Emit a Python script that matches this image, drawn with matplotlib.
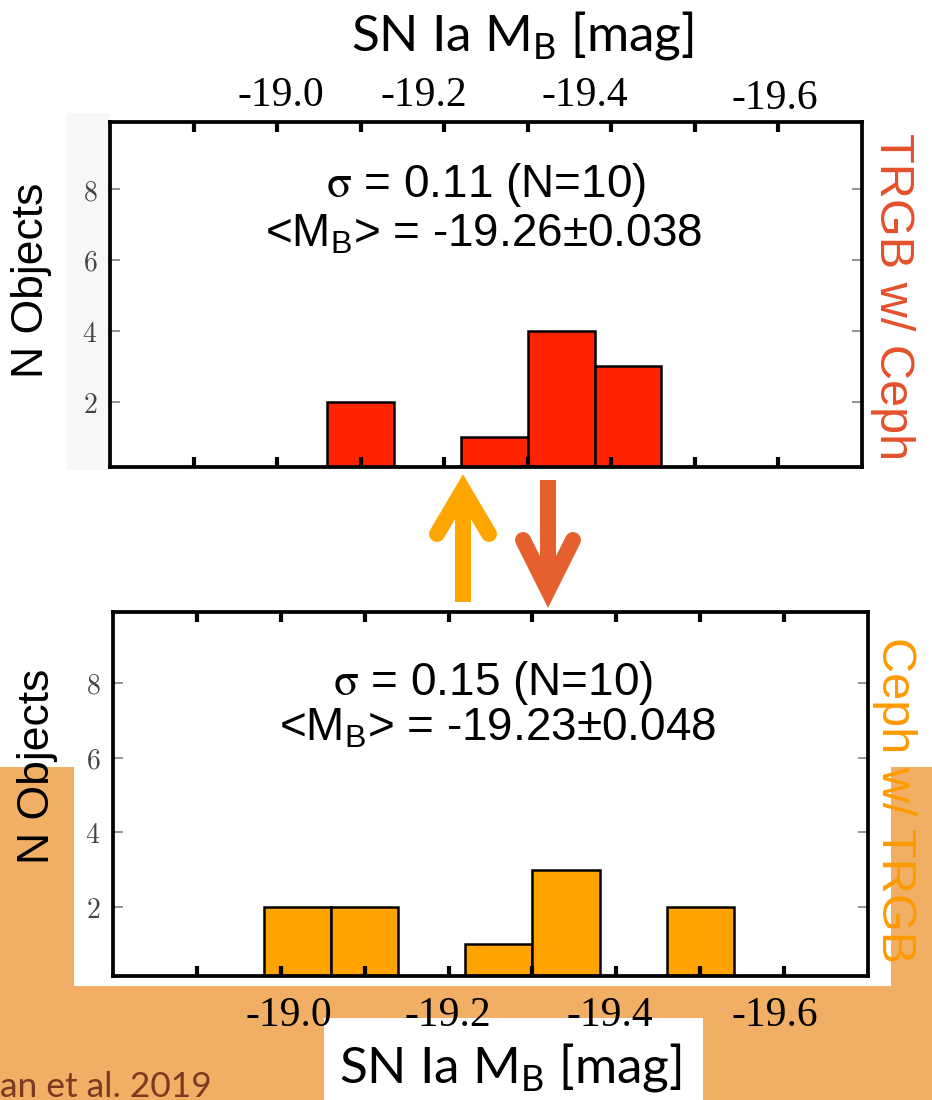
import matplotlib
matplotlib.use("Agg")
import matplotlib.pyplot as plt
import numpy as np
from matplotlib.patches import Rectangle

# ---- data -----------------------------------------------------------------
bin_edges = [-18.98, -19.06, -19.14, -19.22, -19.30, -19.38, -19.46, -19.54]
trgb_counts = [0, 2, 0, 1, 4, 3, 0]          # TRGB w/ Ceph
ceph_counts = [2, 2, 0, 1, 3, 0, 2]          # Ceph w/ TRGB
x_ticks = [-18.9, -19.0, -19.1, -19.2, -19.3, -19.4, -19.5, -19.6]
y_ticks = [2, 4, 6, 8]
mag_labels = ["-19.0", "-19.2", "-19.4", "-19.6"]
trgb_stats = [r"$\mathrm{\sigma}$ = 0.11 (N=10)", r"<M$_\mathrm{B}$> = -19.26±0.038"]
ceph_stats = [r"$\mathrm{\sigma}$ = 0.15 (N=10)", r"<M$_\mathrm{B}$> = -19.23±0.048"]

# ---- layout helpers (pixel coordinates, origin top-left) -------------------
W, H = 932, 1100
plt.rcParams["mathtext.fontset"] = "cm"
plt.rcParams["mathtext.rm"] = "Liberation Sans"
plt.rcParams["mathtext.sf"] = "Lato"

fig = plt.figure(figsize=(W / 100, H / 100), dpi=100)
fig.patch.set_facecolor("white")


def fx(px):
    return px / W


def fy(py):
    return 1 - py / H


def axes_box(left, top, right, bottom):
    return [fx(left), fy(bottom), (right - left) / W, (bottom - top) / H]


# background layer: slide colour blocks and arrows
bg = fig.add_axes([0, 0, 1, 1], zorder=-5)
bg.set_xlim(0, W)
bg.set_ylim(H, 0)
bg.axis("off")
bg.add_patch(Rectangle((0, 767), W, H - 767, color="#F0AF65", lw=0))
bg.add_patch(Rectangle((74, 595), 891 - 74, 986 - 595, color="white", lw=0))
bg.add_patch(Rectangle((324, 1018), 703 - 324, H - 1018, color="white", lw=0))
bg.add_patch(Rectangle((67, 113), 43, 357, color="#f7f7f7", lw=0))

up_col, down_col = "#FFA500", "#E5602E"
arrow_lw = 11.5
bg.plot([463, 463], [602, 492], color=up_col, lw=arrow_lw, solid_capstyle="butt")
bg.plot([437, 463, 489], [534, 490, 534], color=up_col, lw=arrow_lw,
        solid_capstyle="round", solid_joinstyle="miter")
bg.plot([548, 548], [480, 590], color=down_col, lw=arrow_lw, solid_capstyle="butt")
bg.plot([523, 548, 573], [540, 590, 540], color=down_col, lw=arrow_lw,
        solid_capstyle="round", solid_joinstyle="miter")

# ---- histogram panels -----------------------------------------------------
ax_top = fig.add_axes(axes_box(110, 122, 862, 467))
ax_bot = fig.add_axes(axes_box(113, 612, 868, 976))

widths = np.diff(bin_edges)
panels = [
    (ax_top, trgb_counts, "#FF2400", trgb_stats, (0.500, 0.783), (0.497, 0.638)),
    (ax_bot, ceph_counts, "#FFA300", ceph_stats, (0.503, 0.772), (0.509, 0.648)),
]
for ax, counts, color, stats, p1, p2 in panels:
    ax.bar(bin_edges[:-1], counts, width=widths, align="edge",
           color=color, edgecolor="black", linewidth=1.8)
    ax.set_xlim(-18.8, -19.7)
    ax.set_ylim(0.15, 9.9)
    ax.set_xticks(x_ticks)
    ax.set_xticklabels([])
    ax.set_yticks(y_ticks)
    ax.set_yticklabels([f"${v}$" for v in y_ticks])
    ax.tick_params(axis="x", direction="in", top=True, bottom=True,
                   length=7.5, width=3, color="black")
    ax.tick_params(axis="y", direction="in", left=True, right=True,
                   length=7, width=1.1, color="#777777",
                   labelsize=20, labelcolor="#444444", pad=9)
    for s in ax.spines.values():
        s.set_linewidth(2.7)
    ax.text(*p1, stats[0], transform=ax.transAxes, ha="center", va="baseline",
            fontsize=33, family="Liberation Sans", math_fontfamily="stix")
    ax.text(*p2, stats[1], transform=ax.transAxes, ha="center", va="baseline",
            fontsize=33, family="Liberation Sans", math_fontfamily="custom")

# ---- slide text -----------------------------------------------------------
title = r"SN Ia M$_\mathsf{B}$ [mag]"
fig.text(fx(522), fy(51), title, family="Lato", fontsize=37,
         ha="center", va="baseline", math_fontfamily="custom")
fig.text(fx(510), fy(1083), title, family="Lato", fontsize=37,
         ha="center", va="baseline", math_fontfamily="custom")

top_label_px = [281, 424, 585, 775]
top_label_base = [106, 106, 106, 109]
bot_label_px = [289, 448, 610, 775]
for lab, x, y in zip(mag_labels, top_label_px, top_label_base):
    fig.text(fx(x), fy(y), lab, family="Liberation Serif", fontsize=30,
             ha="center", va="baseline")
for lab, x in zip(mag_labels, bot_label_px):
    fig.text(fx(x), fy(1026), lab, family="Liberation Serif", fontsize=30,
             ha="center", va="baseline")

fig.text(fx(32), fy(280), "N Objects", rotation=90, ha="center", va="center",
         family="Liberation Sans", fontsize=32)
fig.text(fx(38), fy(766), "N Objects", rotation=90, ha="center", va="center",
         family="Liberation Sans", fontsize=32)

fig.text(fx(893), fy(297), "TRGB w/ Ceph", rotation=270, ha="center", va="center",
         family="Liberation Sans", fontsize=35, color="#E4512B")
fig.text(fx(894), fy(800), "Ceph w/ TRGB", rotation=270, ha="center", va="center",
         family="Liberation Sans", fontsize=35, color="#FF9A00")

fig.text(fx(0), fy(1097), "an et al. 2019", family="Lato", fontsize=25.5,
         ha="left", va="baseline", color="#7A3A22")

fig.savefig("out.png", dpi=100)
